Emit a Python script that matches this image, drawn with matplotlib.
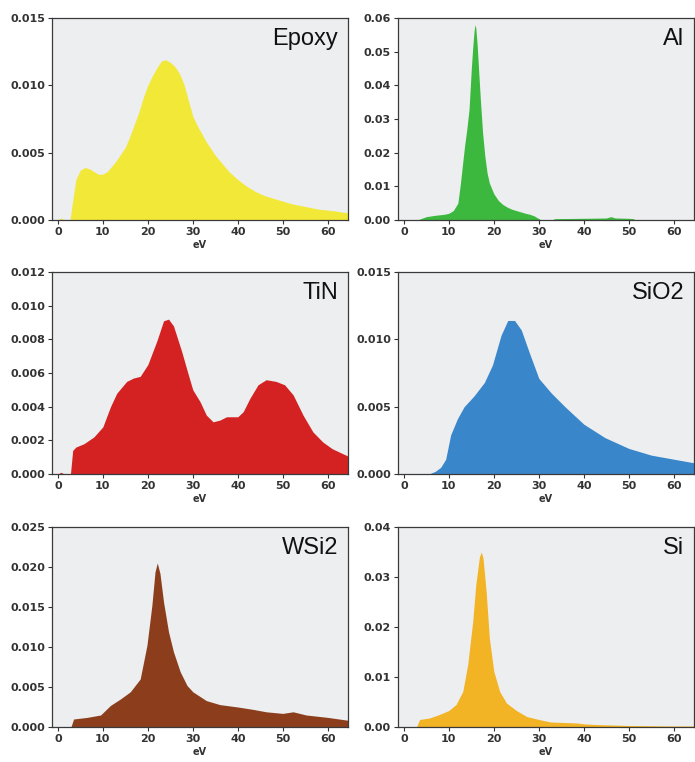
import matplotlib
matplotlib.use("Agg")
import matplotlib.pyplot as plt
from matplotlib.ticker import FormatStrFormatter

# energy loss spectra (eV, intensity)
epoxy_ev = [0, 0.7, 1.4, 2.7, 3.2, 4, 5, 6, 7, 8, 9, 10, 11, 12, 13, 14, 15, 16, 17, 18,
            19, 20, 21, 22, 23, 24, 25, 26, 27, 28, 29, 30, 31, 32, 33, 34, 35, 36, 37,
            38, 39, 40, 42, 44, 46, 48, 50, 52, 55, 58, 61, 65]
epoxy_y = [0, 0.00015, 0, 0, 0.0012, 0.0030, 0.0037, 0.0039, 0.0038, 0.0036, 0.0034,
           0.0034, 0.0036, 0.0040, 0.0044, 0.0049, 0.0054, 0.0062, 0.0071, 0.0080,
           0.0091, 0.0100, 0.0107, 0.0113, 0.0118, 0.0119, 0.0117, 0.0114, 0.0109,
           0.0101, 0.0089, 0.0077, 0.0070, 0.0064, 0.0058, 0.0053, 0.0048, 0.0044,
           0.0040, 0.0036, 0.0033, 0.0030, 0.0025, 0.0021, 0.0018, 0.0016, 0.0014,
           0.0012, 0.0010, 0.0008, 0.0007, 0.0005]

al_ev = [0, 3, 4, 5, 7, 9, 10, 11, 12, 12.5, 13, 13.5, 14, 14.5, 15, 15.3, 15.6, 15.8,
         16.0, 16.3, 16.6, 17, 17.5, 18, 18.5, 19, 20, 21, 22, 23, 24, 25, 26, 27, 28,
         29, 30, 30.6, 33, 33.5, 40, 45, 46, 47, 50, 51, 51.5, 65]
al_y = [0, 0, 0.0005, 0.0010, 0.0014, 0.0017, 0.0020, 0.0028, 0.0050, 0.010, 0.016,
        0.022, 0.027, 0.033, 0.045, 0.051, 0.056, 0.058, 0.057, 0.052, 0.045, 0.036,
        0.026, 0.019, 0.014, 0.011, 0.0078, 0.0058, 0.0046, 0.0038, 0.0032, 0.0028,
        0.0024, 0.0020, 0.0017, 0.0012, 0.0004, 0, 0, 0.0004, 0.0005, 0.0006, 0.0010,
        0.0006, 0.0005, 0.0004, 0, 0]

tin_ev = [0, 0.7, 1.4, 2.8, 3.3, 4, 5.8, 8, 10, 11.7, 13.1, 15.3, 16.8, 18.3, 20, 22,
          23.5, 24.6, 25.7, 27.5, 29, 30, 31.6, 33, 34.5, 36, 37.5, 40, 41.2, 42.7,
          44.5, 46.3, 48.5, 50.4, 52.3, 54.5, 56.7, 58.9, 61, 65]
tin_y = [0, 0.0001, 0, 0, 0.0014, 0.0016, 0.0018, 0.0022, 0.0028, 0.0040, 0.0048,
         0.0055, 0.0057, 0.0058, 0.0065, 0.0079, 0.0091, 0.0092, 0.0088, 0.0073,
         0.0059, 0.0050, 0.0043, 0.0035, 0.0031, 0.0032, 0.0034, 0.0034, 0.0037,
         0.0045, 0.0053, 0.0056, 0.0055, 0.0053, 0.0047, 0.0035, 0.0025, 0.0019,
         0.0015, 0.0010]

sio2_ev = [0, 5.6, 7, 8.2, 9.3, 10.4, 11.9, 13.4, 15.6, 17.9, 19.7, 21.6, 23.1, 24.6,
           26.1, 27.9, 30, 32.8, 35.8, 40, 44.7, 50, 55, 60, 65]
sio2_y = [0, 0, 0.0002, 0.0005, 0.0011, 0.0029, 0.0041, 0.0050, 0.0058, 0.0068,
          0.0081, 0.0103, 0.0114, 0.0114, 0.0107, 0.0090, 0.0071, 0.0060, 0.0050,
          0.0037, 0.0027, 0.0019, 0.0014, 0.0011, 0.0008]

wsi2_ev = [0, 2.9, 3.5, 6.5, 9.5, 11.7, 13.9, 16.1, 18.3, 19.8, 20.9, 21.6, 22.1,
           22.7, 23.5, 24.6, 25.7, 27.2, 28.7, 30, 33, 36, 40, 43.4, 46.3, 50, 52.3,
           55.2, 60, 65]
wsi2_y = [0, 0, 0.0010, 0.0012, 0.0015, 0.0027, 0.0035, 0.0044, 0.0060, 0.0102,
          0.0152, 0.0194, 0.0205, 0.0192, 0.0156, 0.0119, 0.0094, 0.0069, 0.0052,
          0.0044, 0.0033, 0.0028, 0.0025, 0.0022, 0.0019, 0.0017, 0.0019, 0.0015,
          0.0012, 0.0008]

si_ev = [0, 2.8, 3.5, 5.7, 7.9, 10, 11.6, 13.1, 14.2, 15.3, 16, 16.8, 17.2, 17.6, 18.3,
         19, 20, 21.3, 22.8, 25, 27.3, 30, 32.6, 38.5, 40.3, 42.6, 50, 60, 65]
si_y = [0, 0, 0.0015, 0.0018, 0.0025, 0.0033, 0.0045, 0.0071, 0.0125, 0.021, 0.0285,
        0.034, 0.035, 0.0338, 0.027, 0.0178, 0.0111, 0.0071, 0.0048, 0.0033, 0.0021,
        0.0015, 0.0010, 0.0008, 0.0006, 0.0005, 0.0003, 0.0002, 0.0002]

panels = [
    ("Epoxy", epoxy_ev, epoxy_y, "#f2e838", 0.015, 0.005, "%.3f"),
    ("Al", al_ev, al_y, "#3db83e", 0.06, 0.01, "%.2f"),
    ("TiN", tin_ev, tin_y, "#d42222", 0.012, 0.002, "%.3f"),
    ("SiO2", sio2_ev, sio2_y, "#3a86cb", 0.015, 0.005, "%.3f"),
    ("WSi2", wsi2_ev, wsi2_y, "#8c3e1c", 0.025, 0.005, "%.3f"),
    ("Si", si_ev, si_y, "#f2b324", 0.04, 0.01, "%.2f"),
]

fig = plt.figure(figsize=(6.95, 7.62), dpi=100)
lefts = [52 / 695, 398 / 695]
rows = [(18, 220), (272, 474), (527, 727)]

for i, (name, ev, y, color, ymax, step, fmt) in enumerate(panels):
    top, bot = rows[i // 2]
    ax = fig.add_axes([lefts[i % 2], 1 - bot / 762, 296 / 695, (bot - top) / 762])
    ax.set_facecolor("#eceeef")
    ax.fill_between(ev, y, 0, color=color, lw=0)
    ax.set_xlim(-1.3, 64.5)
    ax.set_ylim(0, ymax)
    ax.set_xticks(range(0, 61, 10))
    n = int(round(ymax / step))
    ax.set_yticks([k * step for k in range(n + 1)])
    ax.yaxis.set_major_formatter(FormatStrFormatter(fmt))
    ax.tick_params(labelsize=8, colors="#333333", length=3, width=0.8, pad=2)
    for lab in ax.get_xticklabels() + ax.get_yticklabels():
        lab.set_fontweight("bold")
    for sp in ax.spines.values():
        sp.set_color("#3a3a3a")
        sp.set_linewidth(0.9)
    ax.set_xlabel("eV", fontsize=7, fontweight="bold", color="#333333", labelpad=2)
    ax.text(0.967, 0.95, name, transform=ax.transAxes, ha="right", va="top",
            fontsize=17, family="Liberation Sans", color="#111111")

fig.savefig("out.png", dpi=100, facecolor="white")
